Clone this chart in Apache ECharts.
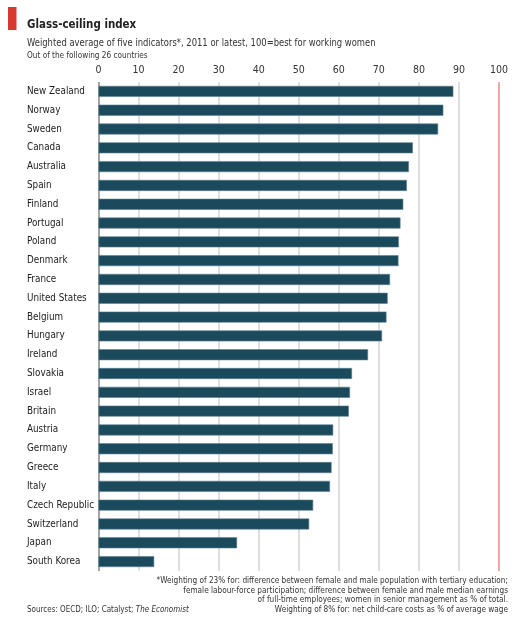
<!DOCTYPE html>
<html>
<head>
<meta charset="utf-8">
<script src="https://cdn.jsdelivr.net/npm/echarts@6/dist/echarts.min.js"></script>
<style>
  html, body { margin: 0; padding: 0; background: #fff; }
  #chart { width: 520px; height: 619px; }
</style>
</head>
<body>
<div id="chart"></div>
<script>
// data
var countries = ['New Zealand', 'Norway', 'Sweden', 'Canada', 'Australia', 'Spain', 'Finland',
  'Portugal', 'Poland', 'Denmark', 'France', 'United States', 'Belgium', 'Hungary', 'Ireland',
  'Slovakia', 'Israel', 'Britain', 'Austria', 'Germany', 'Greece', 'Italy', 'Czech Republic',
  'Switzerland', 'Japan', 'South Korea'];
var scores = [88.6, 86.1, 84.8, 78.5, 77.5, 77.0, 76.1, 75.4, 75.0, 74.9, 72.8, 72.2, 71.9,
  70.8, 67.3, 63.3, 62.8, 62.5, 58.6, 58.5, 58.2, 57.8, 53.6, 52.6, 34.6, 13.9];
var ticks = [0, 10, 20, 30, 40, 50, 60, 70, 80, 90, 100];

var font = "'DejaVu Sans Condensed', sans-serif";

// colour per vertical line: axis at 0, grey lines, red at 100
var lineColors = ticks.map(function(t) {
  if (t === 0) return '#8c8c8c';
  if (t === 100) return '#e9968c';
  return '#d7d7d7';
});

// narrow text helper for the header and footer
function label(x, y, text, size, opts) {
  opts = opts || {};
  return {
    type: 'text', x: x, y: y, scaleX: opts.sx || 0.86,
    style: {
      text: text,
      font: (opts.weight || '') + ' ' + size + 'px ' + font,
      fill: opts.fill || '#333',
      align: opts.align || 'left',
      verticalAlign: 'middle',
      rich: opts.rich
    }
  };
}

var chart = echarts.init(document.getElementById('chart'));

var option = {
  backgroundColor: '#fff',
  animation: false,
  textStyle: { fontFamily: font },
  grid: { left: 98.5, right: 21, top: 82, height: 489 },
  xAxis: {
    type: 'value',
    position: 'top',
    min: 0,
    max: 100,
    interval: 10,
    axisLine: { show: false },
    axisTick: { show: false },
    axisLabel: { color: '#333', fontSize: 10.5, margin: 6, fontFamily: font },
    splitLine: { show: true, lineStyle: { color: lineColors, width: 1.6 } }
  },
  yAxis: {
    type: 'category',
    inverse: true,
    data: countries,
    axisLine: { show: false },
    axisTick: { show: false },
    axisLabel: {
      color: '#222', fontSize: 9.8, align: 'left', margin: 71.5, fontFamily: font
    }
  },
  series: [{
    type: 'bar',
    data: scores,
    barWidth: 11,
    itemStyle: { color: '#1c4a5d', borderColor: '#5d8190', borderWidth: 0.6 },
    z: 3
  }],
  graphic: [
    { type: 'rect', left: 8, top: 7, shape: { width: 8.5, height: 23 }, style: { fill: '#d9382e' } },
    label(27, 25, 'Glass-ceiling index', 13, { weight: 'bold', fill: '#222', sx: 0.88 }),
    label(27, 43, 'Weighted average of five indicators*, 2011 or latest, 100=best for working women', 10.5, { sx: 0.89 }),
    label(27, 56, 'Out of the following 26 countries', 9.5, { sx: 0.86 }),
    label(508, 581, '*Weighting of 23% for: difference between female and male population with tertiary education;', 9.5, { align: 'right' }),
    label(508, 590.5, 'female labour-force participation; difference between female and male median earnings', 9.5, { align: 'right' }),
    label(508, 600, 'of full-time employees; women in senior management as % of total.', 9.5, { align: 'right' }),
    label(508, 609.5, 'Weighting of 8% for: net child-care costs as % of average wage', 9.5, { align: 'right' }),
    label(27, 609.5, '{a|Sources: OECD; ILO; Catalyst; }{b|The Economist}', 9.5, {
      sx: 0.84,
      rich: {
        a: { font: '9.5px ' + font, fill: '#333' },
        b: { font: 'italic 9.5px ' + font, fill: '#333' }
      }
    })
  ]
};

chart.setOption(option);
</script>
</body>
</html>
